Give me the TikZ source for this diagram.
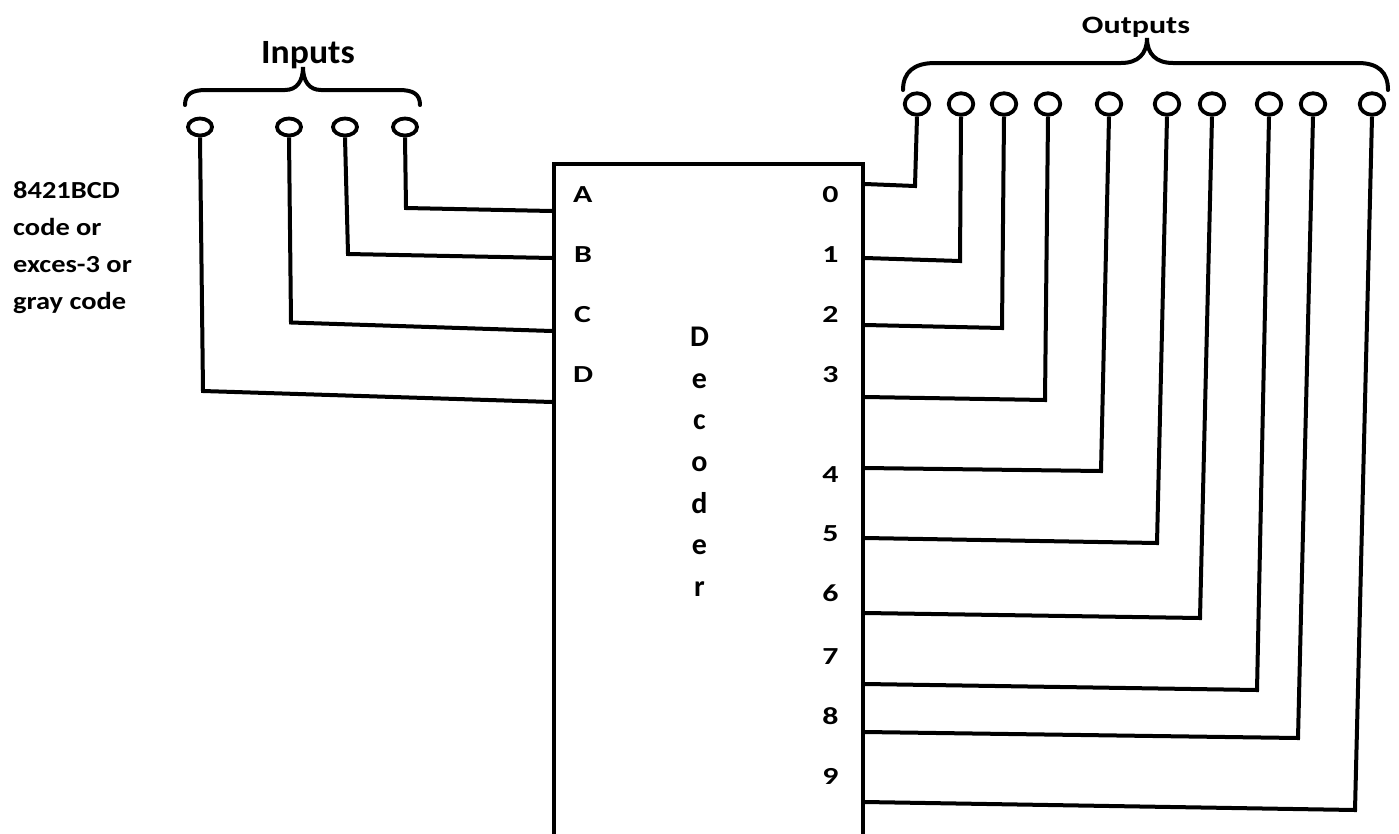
\documentclass[tikz,border=0pt]{standalone}
\usepackage{fontspec}
\setmainfont{Carlito}[Numbers=Lining]
\usetikzlibrary{shapes.geometric}
% horizontally widened text
\newcommand{\widetext}[2]{\scalebox{#1}[1]{#2}}
\begin{document}
\begin{tikzpicture}[x=1pt,y=-1pt,
  wire/.style={line width=4pt, line join=miter},
  interm/.style={draw, ellipse, line width=3.8pt, minimum width=24pt, minimum height=17pt, inner sep=0pt},
  outterm/.style={draw, ellipse, line width=3.8pt, minimum width=24.5pt, minimum height=21.5pt, inner sep=0pt},
  pinlabel/.style={inner sep=0pt, anchor=base, font=\bfseries\fontsize{24.5}{24.5}\selectfont},
  declabel/.style={inner sep=0pt, anchor=base, font=\bfseries\fontsize{30}{30}\selectfont},
  sidelabel/.style={inner sep=0pt, anchor=base west, font=\bfseries\fontsize{24.5}{24.5}\selectfont},
  bracepath/.style={line width=4pt, line cap=round}
]
\clip (0,0) rectangle (1399,833);
\fill[white] (0,0) rectangle (1399,833);

% decoder block (its lower edge runs off the page)
\node[draw, line width=4pt, minimum width=309pt, minimum height=690pt, inner sep=0pt,
      anchor=north west] (dec) at (552,162) {};

% input pin labels
\node[pinlabel, anchor=base west] (lA) at (573,202) {\widetext{1.3}{A}};
\node[pinlabel, anchor=base west] (lB) at (574,262) {\widetext{1.3}{B}};
\node[pinlabel, anchor=base west] (lC) at (574,322) {\widetext{1.3}{C}};
\node[pinlabel, anchor=base west] (lD) at (573,382) {\widetext{1.3}{D}};

% output pin labels
\node[pinlabel] (l0) at (830.5,202) {\widetext{1.3}{0}};
\node[pinlabel] (l1) at (830.5,262) {\widetext{1.3}{1}};
\node[pinlabel] (l2) at (830.5,322) {\widetext{1.3}{2}};
\node[pinlabel] (l3) at (830.5,382) {\widetext{1.3}{3}};
\node[pinlabel] (l4) at (830.5,482) {\widetext{1.3}{4}};
\node[pinlabel] (l5) at (830.5,541) {\widetext{1.3}{5}};
\node[pinlabel] (l6) at (830.5,601) {\widetext{1.3}{6}};
\node[pinlabel] (l7) at (830.5,664) {\widetext{1.3}{7}};
\node[pinlabel] (l8) at (830.5,724) {\widetext{1.3}{8}};
\node[pinlabel] (l9) at (830.5,784) {\widetext{1.3}{9}};

% vertical block title
\node[declabel] (t1) at (699.5,346) {D};
\node[declabel] (t2) at (699.5,388) {e};
\node[declabel] (t3) at (699.5,429) {c};
\node[declabel] (t4) at (699.5,471) {o};
\node[declabel] (t5) at (699.5,513) {d};
\node[declabel] (t6) at (699.5,554) {e};
\node[declabel] (t7) at (699.5,596) {r};

% code description
\node[sidelabel] (s1) at (13,198) {\widetext{1.16}{8421BCD}};
\node[sidelabel] (s2) at (13,235) {\widetext{1.16}{code or}};
\node[sidelabel] (s3) at (13,272) {\widetext{1.16}{exces-3 or}};
\node[sidelabel] (s4) at (13,309) {\widetext{1.16}{gray code}};

% group titles
\node[inner sep=0pt, anchor=base, font=\bfseries\fontsize{34}{34}\selectfont] (tin) at (308,63) {\widetext{1.05}{Inputs}};
\node[inner sep=0pt, anchor=base, font=\bfseries\fontsize{25}{25}\selectfont] (tout) at (1136,33) {\widetext{1.28}{Outputs}};

% braces
\draw[bracepath] (185,105) .. controls (185,94) and (192,90) .. (206,90) -- (285,90)
  .. controls (297,90) and (303,81) .. (303,67)
  .. controls (303,81) and (309,90) .. (321,90) -- (399,90)
  .. controls (413,90) and (420,94) .. (420,105);
\draw[bracepath] (903,90) .. controls (903,72) and (914,63) .. (935,63) -- (1121,63)
  .. controls (1138,63) and (1147,54) .. (1147,38)
  .. controls (1147,54) and (1156,63) .. (1173,63) -- (1358,63)
  .. controls (1378,63) and (1388,72) .. (1388,90);

% input terminals
\node[interm] (iD) at (200,127) {};
\node[interm] (iC) at (289,127) {};
\node[interm] (iB) at (345,127) {};
\node[interm] (iA) at (405,127) {};

% output terminals
\node[outterm] (o0) at (917,104) {};
\node[outterm] (o1) at (961,104) {};
\node[outterm] (o2) at (1004,104) {};
\node[outterm] (o3) at (1048,104) {};
\node[outterm] (o4) at (1109,104) {};
\node[outterm] (o5) at (1167,104) {};
\node[outterm] (o6) at (1212,104) {};
\node[outterm] (o7) at (1269,104) {};
\node[outterm] (o8) at (1313,104) {};
\node[outterm] (o9) at (1372,104) {};

% input wiring
\draw[wire] (iA.south) -- (406,208) -- (dec.west |- 0,211);
\draw[wire] (iB.south) -- (348,254) -- (dec.west |- 0,258);
\draw[wire] (iC.south) -- (291,322.5) -- (dec.west |- 0,331);
\draw[wire] (iD.south) -- (203,391) -- (dec.west |- 0,402);

% output wiring
\draw[wire] (o0.south) -- (915,186) -- (dec.east |- 0,184);
\draw[wire] (o1.south) -- (960,261) -- (dec.east |- 0,258);
\draw[wire] (o2.south) -- (1002,328) -- (dec.east |- 0,325);
\draw[wire] (o3.south) -- (1045,400) -- (dec.east |- 0,397);
\draw[wire] (o4.south) -- (1101,471) -- (dec.east |- 0,468);
\draw[wire] (o5.south) -- (1157,543) -- (dec.east |- 0,538);
\draw[wire] (o6.south) -- (1200,618) -- (dec.east |- 0,613);
\draw[wire] (o7.south) -- (1257,690) -- (dec.east |- 0,684);
\draw[wire] (o8.south) -- (1298,738) -- (dec.east |- 0,732);
\draw[wire] (o9.south) -- (1355,810) -- (dec.east |- 0,802);
\end{tikzpicture}
\end{document}
